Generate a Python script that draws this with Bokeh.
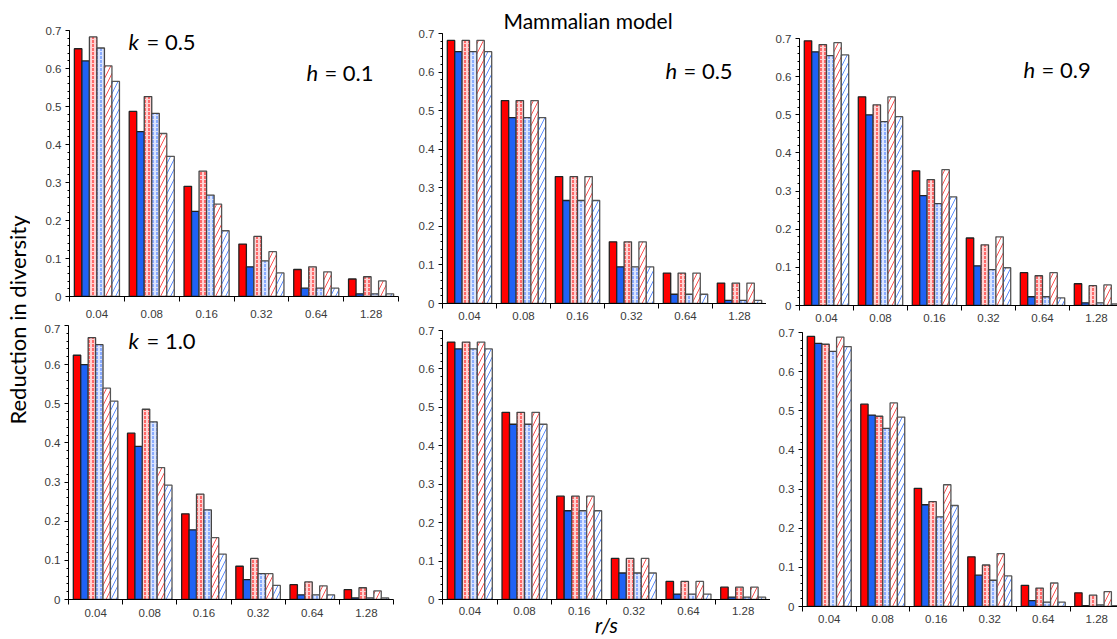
import numpy as np
from math import pi
from bokeh.plotting import figure
from bokeh.models import FixedTicker, Label
from bokeh.layouts import row, column
from bokeh.embed import file_html
from bokeh.resources import INLINE

categories = ["0.04", "0.08", "0.16", "0.32", "0.64", "1.28"]
y_ticks = [0.0, 0.1, 0.2, 0.3, 0.4, 0.5, 0.6, 0.7]
y_tick_labels = ["0", "0.1", "0.2", "0.3", "0.4", "0.5", "0.6", "0.7"]

# Panel k=0.5, h=0.1
a_red       = [0.652, 0.487, 0.290, 0.138, 0.071, 0.046]
a_blue      = [0.620, 0.434, 0.224, 0.078, 0.022, 0.007]
a_red_dot   = [0.683, 0.526, 0.330, 0.158, 0.078, 0.052]
a_blue_dot  = [0.654, 0.482, 0.267, 0.094, 0.022, 0.007]
a_red_diag  = [0.607, 0.429, 0.243, 0.118, 0.065, 0.041]
a_blue_diag = [0.566, 0.369, 0.173, 0.062, 0.022, 0.007]

# Panel k=0.5, h=0.5
b_red       = [0.682, 0.526, 0.329, 0.160, 0.079, 0.053]
b_blue      = [0.653, 0.482, 0.267, 0.095, 0.024, 0.008]
b_red_dot   = [0.682, 0.526, 0.329, 0.160, 0.079, 0.053]
b_blue_dot  = [0.653, 0.482, 0.267, 0.095, 0.024, 0.008]
b_red_diag  = [0.682, 0.526, 0.329, 0.160, 0.079, 0.053]
b_blue_diag = [0.653, 0.482, 0.267, 0.095, 0.024, 0.008]

# Panel k=0.5, h=0.9
c_red       = [0.694, 0.547, 0.353, 0.177, 0.086, 0.057]
c_blue      = [0.665, 0.500, 0.288, 0.104, 0.023, 0.007]
c_red_dot   = [0.684, 0.526, 0.330, 0.159, 0.078, 0.052]
c_blue_dot  = [0.655, 0.482, 0.267, 0.094, 0.023, 0.007]
c_red_diag  = [0.689, 0.547, 0.356, 0.180, 0.086, 0.054]
c_blue_diag = [0.657, 0.495, 0.285, 0.099, 0.020, 0.004]

# Panel k=1.0, h=0.1
d_red       = [0.624, 0.425, 0.219, 0.085, 0.038, 0.025]
d_blue      = [0.600, 0.391, 0.178, 0.051, 0.012, 0.004]
d_red_dot   = [0.669, 0.486, 0.269, 0.105, 0.045, 0.030]
d_blue_dot  = [0.651, 0.454, 0.229, 0.066, 0.012, 0.004]
d_red_diag  = [0.540, 0.337, 0.158, 0.066, 0.035, 0.022]
d_blue_diag = [0.507, 0.292, 0.116, 0.036, 0.012, 0.004]

# Panel k=1.0, h=0.5
e_red       = [0.670, 0.487, 0.269, 0.107, 0.047, 0.032]
e_blue      = [0.652, 0.456, 0.231, 0.069, 0.014, 0.006]
e_red_dot   = [0.670, 0.487, 0.269, 0.107, 0.047, 0.032]
e_blue_dot  = [0.652, 0.456, 0.231, 0.069, 0.014, 0.006]
e_red_diag  = [0.670, 0.487, 0.269, 0.107, 0.047, 0.032]
e_blue_diag = [0.652, 0.456, 0.231, 0.069, 0.014, 0.006]

# Panel k=1.0, h=0.9
f_red       = [0.690, 0.517, 0.302, 0.127, 0.054, 0.035]
f_blue      = [0.672, 0.489, 0.260, 0.080, 0.015, 0.002]
f_red_dot   = [0.670, 0.486, 0.268, 0.106, 0.047, 0.029]
f_blue_dot  = [0.652, 0.455, 0.229, 0.067, 0.011, 0.004]
f_red_diag  = [0.688, 0.520, 0.311, 0.135, 0.060, 0.038]
f_blue_diag = [0.664, 0.484, 0.258, 0.078, 0.011, 0.002]

RED = "#ff0000"
BLUE = "#1f62f5"
STYLES = [
    dict(fill_color=RED, line_color="#222222"),
    dict(fill_color=BLUE, line_color="#222222"),
    dict(fill_color="#ffd2d2", hatch_pattern=":", hatch_color=RED, hatch_scale=4, hatch_weight=1, line_color="#444444"),
    dict(fill_color="#dbe5ff", hatch_pattern=":", hatch_color="#3a74ff", hatch_scale=4, hatch_weight=1, line_color="#444444"),
    dict(fill_color="white", hatch_pattern="/", hatch_color="#ff5050", hatch_scale=10, hatch_weight=1, line_color="#555555"),
    dict(fill_color="white", hatch_pattern="/", hatch_color="#5a8cff", hatch_scale=10, hatch_weight=1, line_color="#555555"),
]
BW = 0.137
LBL_FONT = "Liberation Sans"
TXT_FONT = "Lato"
TICK_SIZE = "11.5px"


def panel(series, width, height, bl, br, bt, bb, xmax, standoff):
    p = figure(width=width, height=height, x_range=(0, xmax), y_range=(0, 0.7),
               output_backend="svg", toolbar_location=None,
               min_border_left=bl, min_border_right=br,
               min_border_top=bt, min_border_bottom=bb)
    p.grid.visible = False
    p.outline_line_color = None
    p.background_fill_color = "white"
    p.border_fill_color = "white"
    idx = np.arange(len(categories))
    for j, vals in enumerate(series):
        xs = idx + 0.5 + (j - 2.5) * BW
        p.vbar(x=xs, top=vals, bottom=0, width=BW, line_width=1.3, **STYLES[j])
    xa = p.xaxis[0]
    xa.ticker = FixedTicker(ticks=list(idx + 0.5), minor_ticks=list(range(len(categories) + 1)))
    xa.major_label_overrides = {float(i + 0.5): c for i, c in enumerate(categories)}
    xa.major_tick_line_color = None
    xa.major_tick_out = 0
    xa.major_tick_in = 0
    xa.minor_tick_out = 5
    xa.minor_tick_in = 0
    xa.minor_tick_line_color = "black"
    xa.axis_line_color = "black"
    xa.major_label_standoff = standoff
    xa.major_label_text_font = LBL_FONT
    xa.major_label_text_font_size = TICK_SIZE
    xa.major_label_text_color = "#3a3a3a"
    ya = p.yaxis[0]
    ya.ticker = FixedTicker(ticks=y_ticks, minor_ticks=[round(0.02 * i, 2) for i in range(36)])
    ya.major_label_overrides = {t: l for t, l in zip(y_ticks, y_tick_labels)}
    ya.major_tick_out = 4
    ya.major_tick_in = 0
    ya.minor_tick_out = 2
    ya.minor_tick_in = 0
    ya.axis_line_color = "black"
    ya.major_tick_line_color = "black"
    ya.minor_tick_line_color = "black"
    ya.major_label_standoff = 4
    ya.major_label_text_font = LBL_FONT
    ya.major_label_text_font_size = TICK_SIZE
    ya.major_label_text_color = "#3a3a3a"
    return p


def mixed_label(p, x, y, var, rest, size="22px"):
    p.add_layout(Label(x=x, y=y, text=var, text_font=TXT_FONT, text_font_style="italic",
                       text_font_size=size, text_baseline="middle", text_align="left", text_color="black"))
    p.add_layout(Label(x=x, y=y, x_offset=18, text=rest, text_font=TXT_FONT,
                       text_font_size=size, text_baseline="middle", text_align="left", text_color="black"))


p1 = panel([a_red, a_blue, a_red_dot, a_blue_dot, a_red_diag, a_blue_diag], 380, 324, 39, 12, 30, 28, 6, 8)
p2 = panel([b_red, b_blue, b_red_dot, b_blue_dot, b_red_diag, b_blue_diag], 356, 324, 32, 0, 33, 21, 6, 3)
p3 = panel([c_red, c_blue, c_red_dot, c_blue_dot, c_red_diag, c_blue_diag], 351, 324, 33, 0, 38, 18, 6 * 318 / 324, 3)
p4 = panel([d_red, d_blue, d_red_dot, d_blue_dot, d_red_diag, d_blue_diag], 380, 315, 38, 17, 1, 40, 6, 4)
p5 = panel([e_red, e_blue, e_red_dot, e_blue_dot, e_red_diag, e_blue_diag], 360, 315, 32, 0, 6, 37, 6, 2)
p6 = panel([f_red, f_blue, f_red_dot, f_blue_dot, f_red_diag, f_blue_diag], 347, 315, 32, 0, 8, 33, 6 * 315 / 321, 3)

mixed_label(p1, 1.076, 0.671, "k", "= 0.5")
mixed_label(p1, 4.32, 0.589, "h", "= 0.1")
mixed_label(p2, 4.13, 0.604, "h", "= 0.5")
mixed_label(p3, 4.15, 0.619, "h", "= 0.9")
mixed_label(p4, 1.108, 0.661, "k", "= 1.0")

# title over the middle panel
p2.title.text = "Mammalian model"
p2.title.text_font = TXT_FONT
p2.title.text_font_size = "21px"
p2.title.text_font_style = "normal"
p2.title.text_color = "black"
p2.title.align = "left"
p2.title.offset = 61
p2.title.standoff = 2

# x-axis label under the middle bottom panel
p5.xaxis[0].axis_label = "r/s"
p5.xaxis[0].axis_label_text_font = TXT_FONT
p5.xaxis[0].axis_label_text_font_style = "italic"
p5.xaxis[0].axis_label_text_font_size = "21px"
p5.xaxis[0].axis_label_text_color = "black"
p5.xaxis[0].axis_label_standoff = -6

lab = figure(width=30, height=639, x_range=(0, 1), y_range=(0, 1), output_backend="svg",
             toolbar_location=None, min_border_left=0, min_border_right=0,
             min_border_top=0, min_border_bottom=0)
lab.axis.visible = False
lab.grid.visible = False
lab.outline_line_color = None
lab.add_layout(Label(x=0.55, y=0.5, text="Reduction in diversity", angle=pi / 2, text_font=TXT_FONT,
                     text_font_size="22px", text_align="center", text_baseline="middle", text_color="black"))

# each panel wrapped on its own so that the rows do not align their frames
top = row(column(p1), column(p2), column(p3))
bottom = row(column(p4), column(p5), column(p6))
layout = row(lab, column(top, bottom))

with open("out.html", "w") as f:
    f.write(file_html(layout, INLINE))
